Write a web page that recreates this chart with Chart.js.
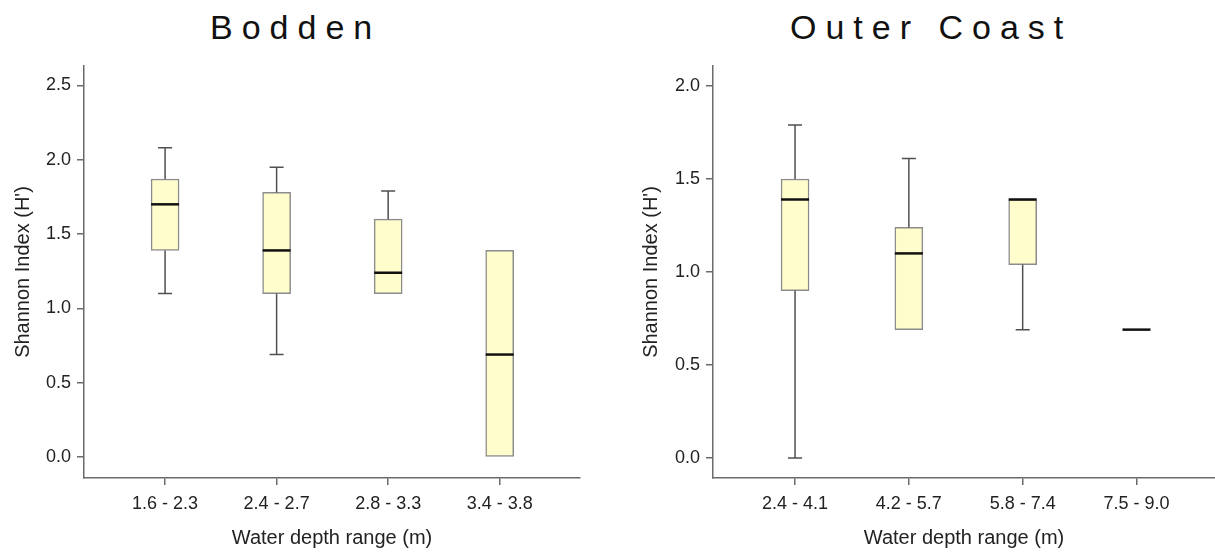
<!DOCTYPE html>
<html>
<head>
<meta charset="utf-8">
<script src="https://cdn.jsdelivr.net/npm/chart.js@4.4.1/dist/chart.umd.min.js"></script>
<style>
  body { margin: 0; background: #fff; width: 1215px; height: 552px; position: relative; overflow: hidden; font-family: "Liberation Sans", Arial, sans-serif; }
  .title { position: absolute; top: 8px; font-size: 34px; letter-spacing: 9px; color: #111; line-height: normal; white-space: nowrap; }
  canvas { position: absolute; top: 0; }
</style>
</head>
<body>
<div class="title" style="left:210px">Bodden</div>
<div class="title" style="left:790px">Outer Coast</div>
<canvas id="bodden" width="600" height="552" style="left:0"></canvas>
<canvas id="outer" width="587" height="552" style="left:628px"></canvas>
<script>
// Bodden
const bodCats = ["1.6 - 2.3", "2.4 - 2.7", "2.8 - 3.3", "3.4 - 3.8"];
const bodMin = [1.10, 0.69, 1.10, 0.00];
const bodQ1 = [1.39, 1.10, 1.10, 0.00];
const bodMed = [1.70, 1.39, 1.24, 0.69];
const bodQ3 = [1.87, 1.78, 1.60, 1.39];
const bodMax = [2.08, 1.95, 1.79, 1.39];
const bodYTicks = [0, 0.5, 1.0, 1.5, 2.0, 2.5];

// Outer Coast
const outCats = ["2.4 - 4.1", "4.2 - 5.7", "5.8 - 7.4", "7.5 - 9.0"];
const outMin = [0.00, 0.69, 0.69, 0.69];
const outQ1 = [0.90, 0.69, 1.04, 0.69];
const outMed = [1.39, 1.10, 1.39, 0.69];
const outQ3 = [1.50, 1.24, 1.39, 0.69];
const outMax = [1.79, 1.61, 1.39, 0.69];
const outYTicks = [0, 0.5, 1.0, 1.5, 2.0];

const FONT = "'Liberation Sans', Arial, sans-serif";
const AXIS = "#6a6a6a";
const TEXT = "#222";

// whiskers + median lines drawn on top of the floating bars
function boxPlugin(mins, meds, maxs, q1s, q3s) {
  return {
    id: "boxWhiskers",
    afterDatasetsDraw: (chart) => {
      const { ctx } = chart;
      const xs = chart.scales.x;
      const ys = chart.scales.y;
      ctx.save();
      ctx.lineCap = "butt";
      meds.forEach((m, i) => {
        const x = xs.getPixelForValue(i + 1);
        ctx.strokeStyle = "#505050";
        ctx.lineWidth = 1.5;
        if (maxs[i] > q3s[i]) {
          ctx.beginPath();
          ctx.moveTo(x, ys.getPixelForValue(q3s[i]));
          ctx.lineTo(x, ys.getPixelForValue(maxs[i]));
          ctx.moveTo(x - 7, ys.getPixelForValue(maxs[i]));
          ctx.lineTo(x + 7, ys.getPixelForValue(maxs[i]));
          ctx.stroke();
        }
        if (mins[i] < q1s[i]) {
          ctx.beginPath();
          ctx.moveTo(x, ys.getPixelForValue(q1s[i]));
          ctx.lineTo(x, ys.getPixelForValue(mins[i]));
          ctx.moveTo(x - 7, ys.getPixelForValue(mins[i]));
          ctx.lineTo(x + 7, ys.getPixelForValue(mins[i]));
          ctx.stroke();
        }
        ctx.strokeStyle = "#111";
        ctx.lineWidth = 2.5;
        ctx.beginPath();
        ctx.moveTo(x - 14, ys.getPixelForValue(m));
        ctx.lineTo(x + 14, ys.getPixelForValue(m));
        ctx.stroke();
      });
      ctx.restore();
    },
  };
}

function makeChart(id, cats, mins, q1s, meds, q3s, maxs, yTicks, yRange, xRange, yWidth, padRight) {
  return new Chart(document.getElementById(id), {
    type: "bar",
    data: {
      datasets: [
        {
          data: cats.map((c, i) => ({ x: i + 1, y: [q1s[i], q3s[i]] })),
          backgroundColor: "#FFFDCB",
          borderColor: "#8c8c8c",
          borderWidth: 1.5,
          borderSkipped: false,
          barThickness: 28,
        },
      ],
    },
    options: {
      responsive: false,
      animation: false,
      layout: { padding: { top: 66, right: padRight, left: 0, bottom: 0 } },
      plugins: { legend: { display: false }, tooltip: { enabled: false } },
      scales: {
        x: {
          type: "linear",
          offset: false,
          min: xRange[0],
          max: xRange[1],
          afterBuildTicks: (s) => { s.ticks = cats.map((c, i) => ({ value: i + 1 })); },
          afterFit: (s) => { s.height = 74; },
          grid: { display: true, offset: false, drawOnChartArea: false, drawTicks: true, tickLength: 7, color: AXIS, lineWidth: 1.5 },
          border: { display: true, color: AXIS, width: 1.5 },
          ticks: {
            padding: 8,
            color: TEXT,
            font: { family: FONT, size: 18 },
            maxRotation: 0,
            autoSkip: false,
            callback: (v) => cats[v - 1],
          },
          title: {
            display: true,
            text: "Water depth range (m)",
            color: TEXT,
            font: { family: FONT, size: 20 },
            padding: { top: 0, bottom: 2 },
          },
        },
        y: {
          min: yRange[0],
          max: yRange[1],
          afterBuildTicks: (s) => { s.ticks = yTicks.map((v) => ({ value: v })); },
          afterFit: (s) => { s.width = yWidth; },
          grid: { display: true, drawOnChartArea: false, drawTicks: true, tickLength: 7, color: AXIS, lineWidth: 1.5 },
          border: { display: true, color: AXIS, width: 1.5 },
          ticks: {
            padding: 6,
            color: TEXT,
            font: { family: FONT, size: 18 },
            callback: (v) => v.toFixed(1),
          },
          title: {
            display: true,
            text: "Shannon Index (H')",
            color: TEXT,
            font: { family: FONT, size: 20 },
            padding: { top: 11, bottom: 0 },
          },
        },
      },
    },
    plugins: [boxPlugin(mins, meds, maxs, q1s, q3s)],
  });
}

makeChart("bodden", bodCats, bodMin, bodQ1, bodMed, bodQ3, bodMax, bodYTicks, [-0.14, 2.63], [0.273, 4.72], 84, 20);
makeChart("outer", outCats, outMin, outQ1, outMed, outQ3, outMax, outYTicks, [-0.108, 2.108], [0.279, 4.69], 85, 0);
</script>
</body>
</html>
